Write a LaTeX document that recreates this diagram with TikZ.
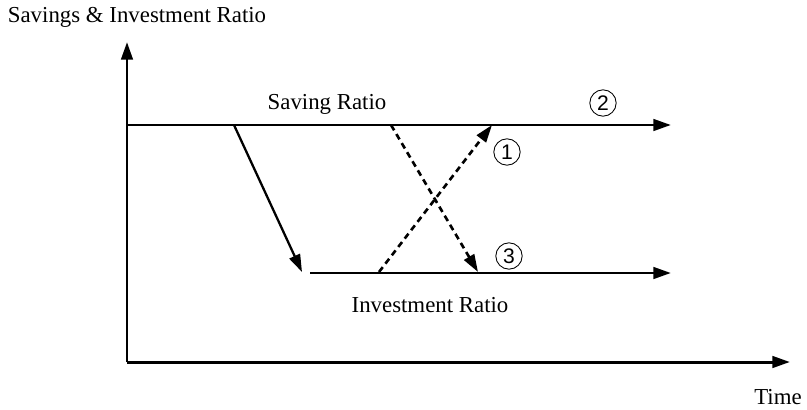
\documentclass[tikz,border=0pt]{standalone}
\usepackage{fontspec}
\setmainfont{Liberation Serif}
\setsansfont{Liberation Sans}
\usepackage{tikz}
\usetikzlibrary{arrows.meta, positioning}

\tikzset{
  ratioline/.style={line width=1.7pt, -{Triangle[length=10pt,width=6.5pt]}},
  shiftline/.style={line width=1.3pt, -{Triangle[length=10pt,width=6.5pt]}},
  dashline/.style={shiftline, line width=1.5pt, dash pattern=on 3.5pt off 2.5pt},
  casemark/.style={circle, draw, line width=0.5pt, inner sep=0.6pt, minimum size=15pt, font=\sffamily\fontsize{12}{12}\selectfont},
  lbl/.style={font=\fontsize{13}{15}\selectfont}
}

\begin{document}
\begin{tikzpicture}[x=0.02cm, y=-0.02cm]
        \useasboundingbox (0,0) rectangle (807,409);
        % Axes
        \coordinate (O) at (127,362);
        \coordinate (ytop) at (127,42);
        \coordinate (xend) at (790,362);
        \draw[ratioline] (O) -- (ytop);
        \draw[ratioline] (O) -- (xend);
        \node[lbl] (ylab) at (137,17) {Savings \& Investment Ratio};
        \node[lbl] (xlab) at (778,397) {Time};
        % Ratios
        \coordinate (s0) at (127,125);
        \coordinate (s1) at (671,125);
        \coordinate (i0) at (310,273);
        \coordinate (i1) at (671,273);
        \draw[ratioline] (s0) -- (s1);
        \draw[ratioline] (i0) -- (i1);
        \node[lbl] (slab) at (327,104) {Saving Ratio};
        \node[lbl] (ilab) at (430,305) {Investment Ratio};
        % Shifts
        \coordinate (a0) at (234,125);
        \coordinate (a1) at (302,272);
        \draw[shiftline] (a0) -- (a1);
        \coordinate (d0) at (391,125);
        \coordinate (d1) at (478,272);
        \draw[dashline] (d0) -- (d1);
        \coordinate (u0) at (379,272);
        \coordinate (u1) at (492,125);
        \draw[dashline] (u0) -- (u1);
        % Cases
        \node[casemark] (c1) at (507,152) {1};
        \node[casemark] (c2) at (603,103) {2};
        \node[casemark] (c3) at (509,256) {3};
    \end{tikzpicture}
\end{document}
